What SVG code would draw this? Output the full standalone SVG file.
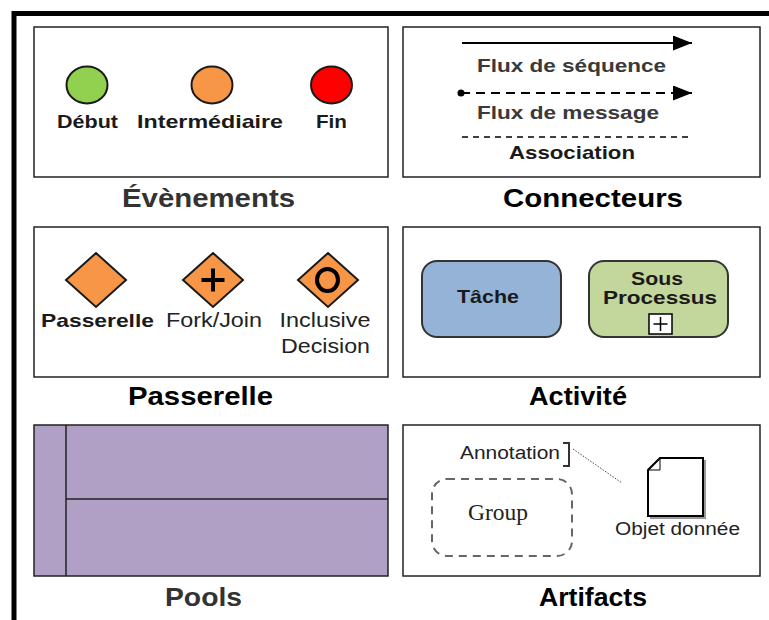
<svg xmlns="http://www.w3.org/2000/svg" width="769" height="620" viewBox="0 0 769 620">
<defs>
<style>
.panel{fill:#fff;stroke:#222;stroke-width:1.5}
.ttl{font-family:"Liberation Sans",Arial,sans-serif;font-weight:bold;font-size:25px;text-anchor:middle;fill:#000}
.gray{fill:#333}
.lbl{font-family:"Liberation Sans",Arial,sans-serif;font-weight:bold;font-size:19px;text-anchor:middle;fill:#1a1a1a}
.reg{font-family:"Liberation Sans",Arial,sans-serif;font-size:20px;text-anchor:middle;fill:#222}
.ev{stroke:#1a1a1a;stroke-width:2}
.gw{fill:#f79646;stroke:#1a1a1a;stroke-width:2}
</style>
<marker id="arr" viewBox="0 0 19 15" refX="19" refY="7.5" markerWidth="19" markerHeight="15" markerUnits="userSpaceOnUse" orient="auto"><path d="M0,0 L19,7.5 L0,15 Z" fill="#000"/></marker>
</defs>
<rect x="0" y="0" width="769" height="620" fill="#fff"/>
<path d="M14,620 L14,13.5 L769,13.5" fill="none" stroke="#000" stroke-width="5"/>

<g id="evenements">
<rect class="panel" x="34" y="27" width="354" height="150"/>
<ellipse class="ev" cx="87" cy="85" rx="20.5" ry="18.5" fill="#92d050"/>
<ellipse class="ev" cx="212" cy="85" rx="20.5" ry="18.5" fill="#f79646"/>
<ellipse class="ev" cx="331.5" cy="85" rx="20.5" ry="18.5" fill="#ff0000"/>
<text class="lbl" x="87.5" y="128" textLength="61" lengthAdjust="spacingAndGlyphs">Début</text>
<text class="lbl" x="210" y="128" textLength="146" lengthAdjust="spacingAndGlyphs">Intermédiaire</text>
<text class="lbl" x="331.5" y="128" textLength="31" lengthAdjust="spacingAndGlyphs">Fin</text>
<text class="ttl gray" x="208.5" y="207" textLength="173" lengthAdjust="spacingAndGlyphs">Évènements</text>
</g>

<g id="connecteurs">
<rect class="panel" x="403" y="27" width="357" height="150"/>
<g id="connectors">
<line x1="462" y1="43" x2="692" y2="43" stroke="#000" stroke-width="2" marker-end="url(#arr)"/>
<line x1="461" y1="93" x2="692" y2="93" stroke="#000" stroke-width="2" stroke-dasharray="9,6" marker-end="url(#arr)"/>
<circle cx="461" cy="93" r="3.5" fill="#000"/>
<line x1="462" y1="137" x2="693" y2="137" stroke="#000" stroke-width="1.5" stroke-dasharray="6,5"/>
</g>
<text class="lbl" x="571.5" y="72" style="fill:#3a3a3a" textLength="189" lengthAdjust="spacingAndGlyphs">Flux de séquence</text>
<text class="lbl" x="568" y="119" style="fill:#3a3a3a" textLength="182" lengthAdjust="spacingAndGlyphs">Flux de message</text>
<text class="lbl" x="572" y="159" textLength="126" lengthAdjust="spacingAndGlyphs">Association</text>
<text class="ttl" x="593" y="207" textLength="180" lengthAdjust="spacingAndGlyphs">Connecteurs</text>
</g>

<g id="passerelle">
<rect class="panel" x="34" y="227" width="354" height="150"/>
<path class="gw" d="M96,253 L126,280 L96,307 L66,280 Z"/>
<path class="gw" d="M213,253 L243,280 L213,307 L183,280 Z"/>
<path d="M213,268.5 L213,291.5 M201.5,280 L224.5,280" stroke="#000" stroke-width="4"/>
<path class="gw" d="M328,253 L358,280 L328,307 L298,280 Z"/>
<ellipse cx="327.5" cy="280" rx="10.5" ry="11" fill="none" stroke="#000" stroke-width="4"/>
<text class="lbl" x="97.5" y="327" textLength="113" lengthAdjust="spacingAndGlyphs">Passerelle</text>
<text class="reg" x="214" y="327" textLength="96" lengthAdjust="spacingAndGlyphs">Fork/Join</text>
<text class="reg" x="325" y="327" textLength="91" lengthAdjust="spacingAndGlyphs">Inclusive</text>
<text class="reg" x="325.5" y="353" textLength="89" lengthAdjust="spacingAndGlyphs">Decision</text>
<text class="ttl" x="200.5" y="405" textLength="145" lengthAdjust="spacingAndGlyphs">Passerelle</text>
</g>

<g id="activite">
<rect class="panel" x="403" y="227" width="357" height="150"/>
<rect x="422" y="261" width="139" height="76" rx="15" fill="#95b3d7" stroke="#333" stroke-width="2"/>
<text class="lbl" x="488" y="303" textLength="62" lengthAdjust="spacingAndGlyphs">Tâche</text>
<rect x="589" y="261" width="139" height="76" rx="15" fill="#c3d69b" stroke="#333" stroke-width="2"/>
<text class="lbl" x="657" y="285" textLength="52" lengthAdjust="spacingAndGlyphs">Sous</text>
<text class="lbl" x="660" y="304" textLength="114" lengthAdjust="spacingAndGlyphs">Processus</text>
<rect x="649" y="314" width="23" height="20" fill="#fff" stroke="#000" stroke-width="1.5"/>
<path d="M660.5,317 L660.5,331 M653.5,324 L667.5,324" stroke="#000" stroke-width="1.5"/>
<text class="ttl" x="578" y="405" textLength="98" lengthAdjust="spacingAndGlyphs">Activité</text>
</g>

<g id="pools">
<rect x="34" y="425" width="354" height="151" fill="#b0a0c6" stroke="#222" stroke-width="1.5"/>
<line x1="66" y1="425" x2="66" y2="576" stroke="#222" stroke-width="1.5"/>
<line x1="66" y1="499" x2="388" y2="499" stroke="#222" stroke-width="1.5"/>
<text class="ttl gray" x="203.5" y="606" textLength="77" lengthAdjust="spacingAndGlyphs">Pools</text>
</g>

<g id="artifacts">
<rect class="panel" x="403" y="425" width="357" height="151"/>
<text class="reg" x="510" y="459" style="font-size:18px" textLength="100" lengthAdjust="spacingAndGlyphs">Annotation</text>
<path d="M563,443 L569,443 L569,466 L563,466" fill="none" stroke="#333" stroke-width="2"/>
<line x1="573" y1="449" x2="622" y2="483" stroke="#444" stroke-width="1" stroke-dasharray="1.5,1.5"/>
<rect x="432" y="479" width="140" height="77" rx="15" fill="none" stroke="#666" stroke-width="2" stroke-dasharray="8,6"/>
<text x="498" y="520" font-family="Liberation Serif,'Times New Roman',serif" font-size="23" text-anchor="middle" fill="#222" textLength="60" lengthAdjust="spacingAndGlyphs">Group</text>
<path d="M650,518 L705,518 L705,460" fill="none" stroke="#999" stroke-width="2"/>
<path d="M660,458 L703,458 L703,516 L648,516 L648,470 Z" fill="#fff" stroke="#000" stroke-width="2"/>
<path d="M648,470 L660,470 L660,458" fill="none" stroke="#000" stroke-width="1"/>
<text class="reg" x="677.5" y="535" style="font-size:18px" textLength="125" lengthAdjust="spacingAndGlyphs">Objet donnée</text>
<text class="ttl" x="593" y="606" textLength="108" lengthAdjust="spacingAndGlyphs">Artifacts</text>
</g>
</svg>
